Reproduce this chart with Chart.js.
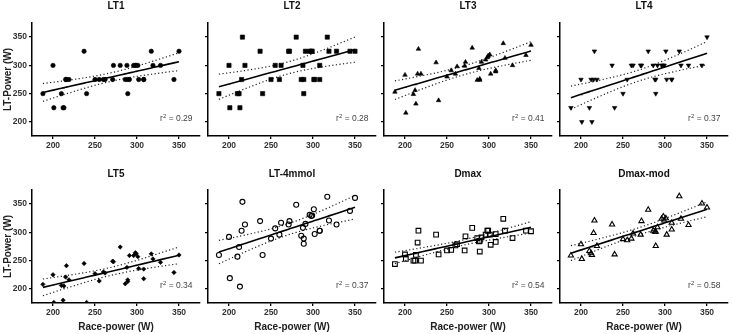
<!DOCTYPE html>
<html>
<head>
<meta charset="utf-8">
<script src="https://cdn.jsdelivr.net/npm/chart.js@4.4.1/dist/chart.umd.min.js"></script>
<style>
  html,body{margin:0;padding:0;background:#fff;}
  #wrap{position:relative;width:733px;height:334px;overflow:hidden;}
  #wrap canvas{position:absolute;}
</style>
</head>
<body>
<div id="wrap"></div>
<script>
// race power (W), one value per athlete, shared by every panel
const raceX=[188,200,201,210,212,213,215,216,219,237,240,250,255,260,262,271,272,280,
             286,288,289,289,291,296,298,299,301,302,308,308,317,319,328,344,350];

// LT power (W) per method, same athlete order as raceX
const lt1Y=[250,300,225,250,225,225,275,275,275,325,250,275,275,275,275,275,300,300,
            275,300,250,275,275,300,300,300,300,275,275,275,325,300,300,275,325];
const lt2Y=[250,300,225,250,250,225,275,350,300,325,250,275,300,275,300,325,325,350,
            275,300,275,250,325,325,325,325,275,275,275,300,350,325,325,325,325];
const lt3Y=[253,283,216,249,256,232,285,329,285,305,238,280,291,285,298,299,306,331,
            274,295,276,274,306,310,314,317,319,285,291,289,339,313,300,318,336];
const lt4Y=[225,275,200,225,275,200,275,325,275,300,225,250,275,300,300,300,300,325,
            300,275,275,250,300,300,300,300,325,275,275,275,325,300,300,300,350];
const lt5Y=[208,225,176,206,180,205,221,241,216,245,176,227,214,230,228,249,248,274,
            209,238,216,213,259,259,264,262,257,236,235,218,262,253,247,229,260];
const lt4mmolY=[260,292,219,257,274,204,303,354,314,320,260,289,307,296,317,314,320,349,
                294,308,289,280,315,331,329,330,341,297,303,303,363,321,314,338,361];
const dmaxY=[244,261,253,250,250,260,282,303,250,296,261,268,269,277,279,268,293,308,
             290,284,285,266,291,296,303,303,296,278,297,283,324,303,290,303,302];
const dmaxModY=[259,279,253,267,263,260,299,321,276,314,261,288,286,289,298,296,320,340,
                303,301,301,276,309,324,328,321,325,296,317,305,364,324,313,351,344];

const panelNames=['LT1','LT2','LT3','LT4','LT5','LT-4mmol','Dmax','Dmax-mod'];
const panelY=[lt1Y,lt2Y,lt3Y,lt4Y,lt5Y,lt4mmolY,dmaxY,dmaxModY];
const r2Text=['0.29','0.28','0.41','0.37','0.34','0.37','0.54','0.58'];
const axisTicks=[200,250,300,350];
const AX_MIN=175, AX_MAX=375;
const T95=2.035; // t(0.975, n-2)

// symbol per panel
const markers=[
  {style:'circle',r:2.2,open:false},
  {style:'rect',r:3,open:false},
  {style:'triangle',r:2.6,open:false},
  {style:'triangle',r:2.6,open:false,rot:180},
  {style:'rectRot',r:2.2,open:false},
  {style:'circle',r:2.5,open:true},
  {style:'rect',r:3.3,open:true},
  {style:'triangle',r:3,open:true},
];

const FONT='"Liberation Sans", Arial, sans-serif';
Chart.defaults.font.family=FONT;

// least squares line + 95% confidence band of the mean
function fitLine(xs,ys){
  const n=xs.length;
  const mx=xs.reduce((s,v)=>s+v,0)/n, my=ys.reduce((s,v)=>s+v,0)/n;
  let sxx=0,sxy=0;
  xs.forEach((x,i)=>{ sxx+=(x-mx)*(x-mx); sxy+=(x-mx)*(ys[i]-my); });
  const b=sxy/sxx, a=my-b*mx;
  let sse=0;
  xs.forEach((x,i)=>{ const e=ys[i]-(a+b*x); sse+=e*e; });
  const s=Math.sqrt(sse/(n-2));
  const ux=[...new Set(xs)].sort((p,q)=>p-q);
  const hw=x=>T95*s*Math.sqrt(1/n+(x-mx)*(x-mx)/sxx);
  return {
    line:ux.map(x=>({x,y:a+b*x})),
    upper:ux.map(x=>({x,y:a+b*x+hw(x)})),
    lower:ux.map(x=>({x,y:a+b*x-hw(x)})),
  };
}

const r2Plugin={
  id:'r2',
  afterDatasetsDraw(chart,args,opts){
    const {ctx,chartArea:a}=chart;
    const x=a.right-7.5, y=a.bottom-15;
    ctx.save();
    ctx.fillStyle='#444'; ctx.textAlign='right'; ctx.textBaseline='alphabetic';
    ctx.font='8.5px '+FONT;
    const tail=' = '+opts.text, tw=ctx.measureText(tail).width;
    ctx.fillText(tail,x,y);
    ctx.font='6px '+FONT;
    const sw=ctx.measureText('2').width;
    ctx.fillText('2',x-tw,y-3.5);
    ctx.font='8.5px '+FONT;
    ctx.fillText('r',x-tw-sw,y);
    ctx.restore();
  }
};

const wrap=document.getElementById('wrap');

function makePanel(i){
  const row=Math.floor(i/4), col=i%4;
  const cv=document.createElement('canvas');
  cv.width=206; cv.height=167;
  cv.style.left=(col*176)+'px'; cv.style.top=(row*167)+'px';
  wrap.appendChild(cv);

  const ys=panelY[i], m=markers[i], fit=fitLine(raceX,ys);
  const firstCol=col===0, lastRow=row===1;
  const band={showLine:true,borderColor:'#222',borderWidth:1.2,borderDash:[1.2,2.4],pointRadius:0};

  new Chart(cv,{
    type:'scatter',
    data:{datasets:[
      {data:raceX.map((x,k)=>({x,y:ys[k]})),pointStyle:m.style,rotation:m.rot||0,
       pointRadius:m.r,backgroundColor:m.open?'rgba(255,255,255,0)':'#000',
       borderColor:'#000',borderWidth:m.open?1.1:0.6},
      {data:fit.line,showLine:true,borderColor:'#000',borderWidth:1.6,pointRadius:0},
      Object.assign({data:fit.upper},band),
      Object.assign({data:fit.lower},band),
    ]},
    options:{
      responsive:false,animation:false,devicePixelRatio:1,
      layout:{padding:{left:0,right:6,top:0,bottom:0}},
      plugins:{
        legend:{display:false},tooltip:{enabled:false},
        title:{display:true,text:panelNames[i],fullSize:false,color:'#111',
               font:{size:10,weight:'bold'},padding:{top:row?1.5:0,bottom:row?9.5:11}},
        r2:{text:r2Text[i]},
      },
      scales:{
        x:{type:'linear',min:AX_MIN,max:AX_MAX,
           afterBuildTicks:s=>{ s.ticks=axisTicks.map(v=>({value:v})); },
           afterFit:s=>{ s.height=31; },
           grid:{drawOnChartArea:false,drawTicks:true,tickLength:3,color:'#000',lineWidth:1.3},
           border:{display:true,color:'#000',width:1.5},
           ticks:{color:'#333',font:{size:8.5,weight:'bold'},padding:2,maxRotation:0},
           title:{display:lastRow,text:'Race-power (W)',color:'#222',
                  font:{size:10,weight:'bold'},padding:{top:0,bottom:1}}},
        y:{type:'linear',min:AX_MIN,max:AX_MAX,
           afterBuildTicks:s=>{ s.ticks=axisTicks.map(v=>({value:v})); },
           afterFit:s=>{ s.width=32; },
           grid:{drawOnChartArea:false,drawTicks:true,tickLength:3,color:'#000',lineWidth:1.3},
           border:{display:true,color:'#000',width:1.5},
           ticks:{display:firstCol,color:'#333',font:{size:8.5,weight:'bold'},padding:2},
           title:{display:firstCol,text:'LT-Power (W)',color:'#222',
                  font:{size:10,weight:'bold'},padding:{top:2,bottom:0}}},
      },
    },
    plugins:[r2Plugin],
  });
}

panelNames.forEach((_,i)=>makePanel(i));
</script>
</body>
</html>
